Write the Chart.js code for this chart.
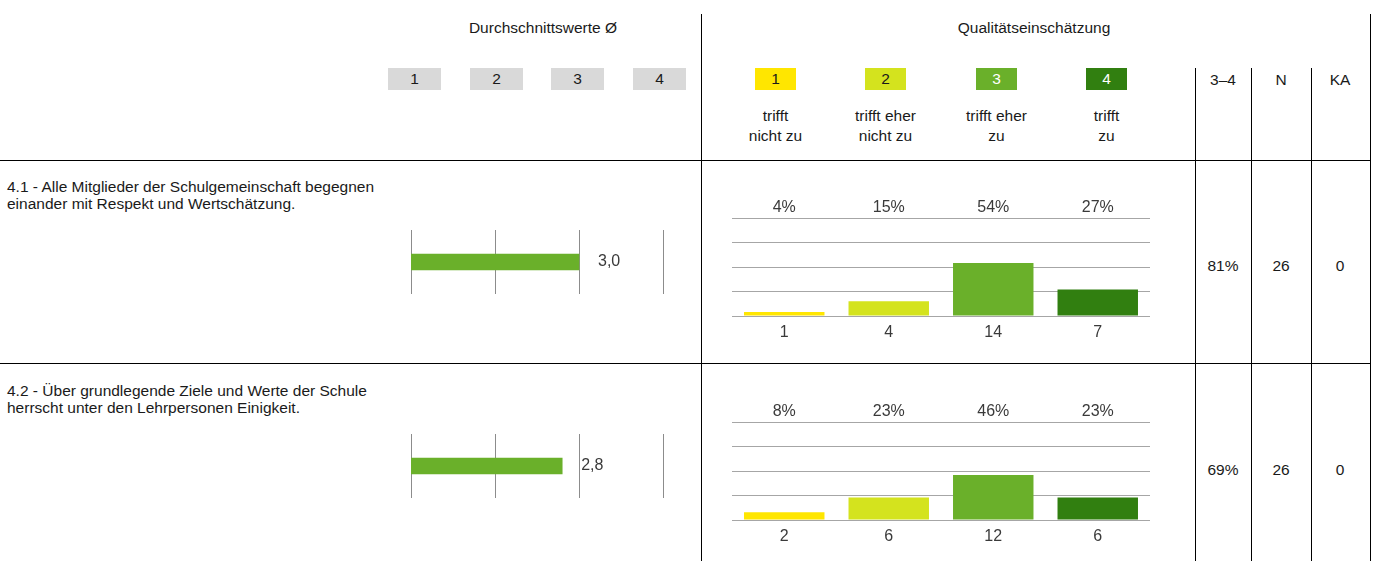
<!DOCTYPE html>
<html lang="de">
<head>
<meta charset="utf-8">
<title>Qualitätseinschätzung</title>
<script src="https://cdn.jsdelivr.net/npm/chart.js@4.4.1/dist/chart.umd.min.js"></script>
<style>
  html, body { margin: 0; padding: 0; background: #fff; }
  body { width: 1376px; height: 561px; position: relative; overflow: hidden;
         font: 15.5px "Liberation Sans", Arial, sans-serif; color: #1a1a1a; }
  .txt { position: absolute; line-height: 17px; white-space: nowrap; }
  .ctr { transform: translateX(-50%); text-align: center; }
  .hline { position: absolute; height: 1px; background: #000; }
  .vline { position: absolute; width: 1px; background: #000; }
  .box { position: absolute; height: 22px; line-height: 22px; text-align: center; }
  canvas { position: absolute; }
</style>
</head>
<body>
<script>
// Fragen
var questions = [
  "4.1 - Alle Mitglieder der Schulgemeinschaft begegnen\neinander mit Respekt und Wertschätzung.",
  "4.2 - Über grundlegende Ziele und Werte der Schule\nherrscht unter den Lehrpersonen Einigkeit."
];
// Durchschnittswerte
var meanTicks = [1, 2, 3, 4];
var means = [3.0, 2.8];
// Verteilung auf die Stufen 1-4
var scaleSteps = ["1", "2", "3", "4"];
var scaleLabels = ["trifft\nnicht zu", "trifft eher\nnicht zu", "trifft eher\nzu", "trifft\nzu"];
var scaleColors = ["#ffe600", "#d4e31e", "#6ab02a", "#317f10"];
var scaleTextColors = ["#1a1a1a", "#1a1a1a", "#fff", "#fff"];
var counts = [[1, 4, 14, 7], [2, 6, 12, 6]];
var percents = [[4, 15, 54, 27], [8, 23, 46, 23]];
// Kennzahlen rechts
var share34 = ["81%", "69%"];
var nValues = [26, 26];
var kaValues = [0, 0];

var rowTops = [160, 364];
var FONT = '16px "Liberation Sans", Arial, sans-serif';

function add(cls, css, text) {
  var el = document.createElement("div");
  el.className = cls;
  for (var k in css) el.style[k] = css[k];
  if (text !== undefined) el.textContent = text;
  document.body.appendChild(el);
  return el;
}

// Rahmenlinien
add("hline", {left: "0px", top: "160px", width: "1371px"});
add("hline", {left: "0px", top: "363px", width: "1371px"});
add("vline", {left: "701px", top: "14px", height: "547px"});
add("vline", {left: "1370px", top: "14px", height: "547px"});
[1195, 1251, 1311].forEach(function (x) {
  add("vline", {left: x + "px", top: "68px", height: "493px"});
});

// Kopfzeile
add("txt ctr", {left: "543px", top: "19px"}, "Durchschnittswerte Ø");
add("txt ctr", {left: "1034px", top: "19px"}, "Qualitätseinschätzung");
[388, 470, 551, 633].forEach(function (x, i) {
  add("box", {left: x + "px", top: "68px", width: "53px", background: "#d9d9d9"}, String(meanTicks[i]));
});
[755, 865, 976, 1086].forEach(function (x, i) {
  add("box", {left: x + "px", top: "68px", width: "41px", background: scaleColors[i], color: scaleTextColors[i]}, scaleSteps[i]);
  add("txt ctr", {left: (x + 20.5) + "px", top: "106px", lineHeight: "20px", whiteSpace: "pre"}, scaleLabels[i]);
});
add("txt ctr", {left: "1223px", top: "71px"}, "3–4");
add("txt ctr", {left: "1281px", top: "71px"}, "N");
add("txt ctr", {left: "1340px", top: "71px"}, "KA");

// Balken-Beschriftungen
var valueLabels = {
  id: "valueLabels",
  afterDatasetsDraw: function (chart, args, opts) {
    var ctx = chart.ctx;
    var meta = chart.getDatasetMeta(0);
    var area = chart.chartArea;
    ctx.save();
    ctx.font = FONT;
    ctx.fillStyle = "#3a3a3a";
    ctx.textBaseline = "middle";
    meta.data.forEach(function (bar, i) {
      if (opts.mode === "mean") {
        ctx.textAlign = "left";
        ctx.fillText(opts.text[i], bar.x + 19, bar.y);
      } else {
        ctx.textAlign = "center";
        ctx.fillText(opts.top[i], bar.x, area.top - 10);
        ctx.fillText(opts.bottom[i], bar.x, area.bottom + 17);
      }
    });
    ctx.restore();
  }
};

function makeCanvas(left, top, w, h) {
  var c = document.createElement("canvas");
  c.width = w; c.height = h;
  c.style.left = left + "px"; c.style.top = top + "px";
  c.style.width = w + "px"; c.style.height = h + "px";
  document.body.appendChild(c);
  return c;
}

rowTops.forEach(function (top, r) {
  add("txt", {left: "7px", top: (top + 18) + "px", whiteSpace: "pre"}, questions[r]);

  // Durchschnitt
  new Chart(makeCanvas(380, top + 60, 320, 84), {
    type: "bar",
    data: {
      labels: [""],
      datasets: [{ data: [means[r]], backgroundColor: "#6ab02a", barThickness: 16 }]
    },
    options: {
      indexAxis: "y",
      responsive: false,
      animation: false,
      layout: { padding: { left: 31, right: 37, top: 10, bottom: 10 } },
      plugins: {
        legend: { display: false },
        tooltip: { enabled: false },
        valueLabels: { mode: "mean", text: [means[r].toFixed(1).replace(".", ",")] }
      },
      scales: {
        x: {
          min: meanTicks[0], max: meanTicks[meanTicks.length - 1],
          ticks: { display: false, stepSize: 1 },
          grid: { color: "#8c8c8c", drawTicks: false },
          border: { display: false }
        },
        y: { display: false }
      }
    },
    plugins: [valueLabels]
  });

  // Verteilung
  new Chart(makeCanvas(702, top + 25, 492, 170), {
    type: "bar",
    data: {
      labels: scaleSteps,
      datasets: [{
        data: percents[r],
        backgroundColor: scaleColors,
        categoryPercentage: 1,
        barPercentage: 0.77
      }]
    },
    options: {
      responsive: false,
      animation: false,
      layout: { padding: { left: 30, right: 44, top: 33, bottom: 39 } },
      plugins: {
        legend: { display: false },
        tooltip: { enabled: false },
        valueLabels: {
          mode: "dist",
          top: percents[r].map(function (p) { return p + "%"; }),
          bottom: counts[r].map(String)
        }
      },
      scales: {
        x: { display: false },
        y: {
          min: 0, max: 100,
          ticks: { display: false, stepSize: 25 },
          grid: { color: "#a6a6a6", drawTicks: false },
          border: { display: false }
        }
      }
    },
    plugins: [valueLabels]
  });

  var cy = top + 97;
  add("txt ctr", {left: "1223px", top: cy + "px"}, share34[r]);
  add("txt ctr", {left: "1281px", top: cy + "px"}, String(nValues[r]));
  add("txt ctr", {left: "1340px", top: cy + "px"}, String(kaValues[r]));
});
</script>
</body>
</html>
